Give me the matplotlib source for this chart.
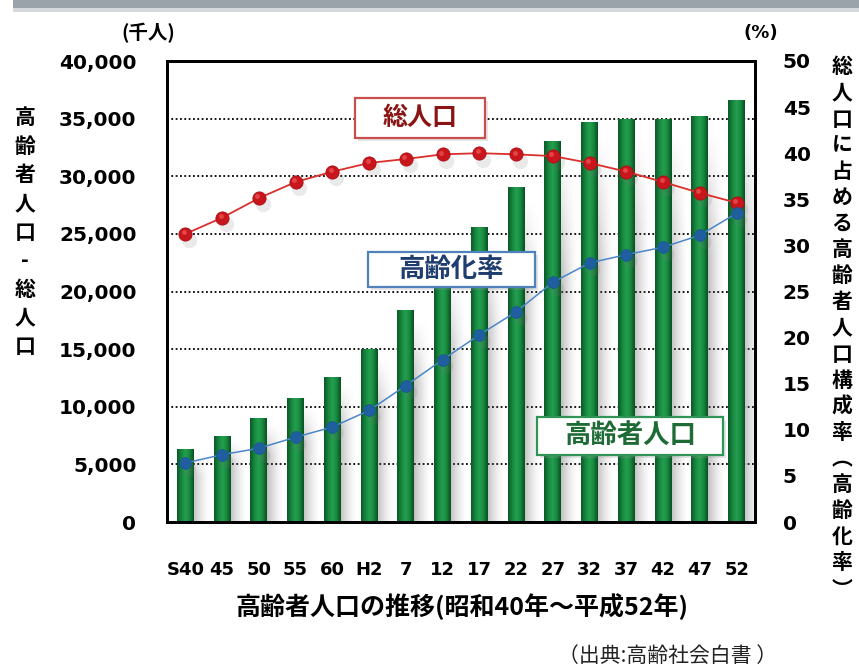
import matplotlib
matplotlib.use("Agg")
import matplotlib.pyplot as plt
import numpy as np
from matplotlib.colors import LinearSegmentedColormap
from matplotlib.patches import Rectangle

plt.rcParams['font.family'] = ['Noto Sans CJK JP', 'DejaVu Sans']

# ---- data -------------------------------------------------------------
categories = ['S40', '45', '50', '55', '60', 'H2', '7', '12', '17', '22',
              '27', '32', '37', '42', '47', '52']
elderly_pop = [6300, 7450, 9000, 10700, 12500, 14950, 18350, 22100, 25550,
               29000, 33000, 34700, 34900, 34900, 35200, 36600]      # 千人
total_pop_curve = [25000, 26400, 28100, 29500, 30400, 31150, 31500, 31900,
                   32000, 31900, 31750, 31150, 30400, 29500, 28550, 27700]
aging_rate = [6.4, 7.3, 8.0, 9.2, 10.3, 12.1, 14.8, 17.6, 20.3, 22.8,
              26.0, 28.1, 29.0, 29.8, 31.1, 33.5]                     # %
left_ticks = [0, 5000, 10000, 15000, 20000, 25000, 30000, 35000, 40000]
right_ticks = [0, 5, 10, 15, 20, 25, 30, 35, 40, 45, 50]

W, H = 859, 668
fig = plt.figure(figsize=(W / 100, H / 100), dpi=100)
fig.patch.set_facecolor('white')


def fx(x):
    return x / W


def fy(y):
    return 1 - y / H


ax = fig.add_axes([fx(167), fy(522), fx(755) - fx(167), fy(61) - fy(522)])
ax2 = ax.twinx()

x = np.arange(len(categories))
bw = 0.46

# dotted horizontal grid
for t in left_ticks[1:-1]:
    ax.axhline(t, color='black', lw=1.3, ls=(0, (1, 1.4)), zorder=0.5)

# soft shadows to the right of each bar
shadow = np.zeros((16, 64, 4))
shadow[..., :3] = 0.35
horiz = np.linspace(0.5, 0.0, 64) ** 1.4
vert = np.clip(np.linspace(0, 3, 16), 0, 1)[:, None]
shadow[..., 3] = horiz[None, :] * vert
for xi, v in zip(x, elderly_pop):
    ax.imshow(shadow, extent=(xi + bw / 2 - 0.02, xi + bw / 2 + 0.42, 0, v - 300),
              aspect='auto', interpolation='bilinear', zorder=1)

# cylinder-shaded green bars
bar_cmap = LinearSegmentedColormap.from_list(
    'cyl', ['#0a5827', '#17853e', '#24a050', '#18883f', '#084f22'])
grad = np.linspace(0, 1, 64).reshape(1, -1)
for xi, v in zip(x, elderly_pop):
    ax.imshow(grad, extent=(xi - bw / 2, xi + bw / 2, 0, v), cmap=bar_cmap,
              aspect='auto', interpolation='bilinear', zorder=2)

# total population curve with shadowed spheres
ax.plot(x + 0.1, np.array(total_pop_curve) - 550, 'o', ms=11, color='#777777',
        alpha=0.15, mec='none', zorder=2.5)
ax.plot(x, total_pop_curve, '-', color='#d9302c', lw=1.3, zorder=3)
ax.plot(x, total_pop_curve, 'o', ms=9.5, color='#c8161c', mec='#a80f14',
        mew=0.6, zorder=3.1)
ax.plot(x - 0.04, np.array(total_pop_curve) + 150, 'o', ms=3.5,
        color='#ee5a5a', mec='none', alpha=0.7, zorder=3.2)

ax.set_xlim(-0.5, len(categories) - 0.5)
ax.set_ylim(0, 40000)
ax.set_yticks(left_ticks)
ax.set_yticklabels([f'{t:,}' for t in left_ticks], family='DejaVu Sans',
                   fontweight='bold', fontsize=14.5)
ax.set_xticks(x)
ax.set_xticklabels(categories, family='DejaVu Sans', fontweight='bold',
                   fontsize=13)
ax.tick_params(axis='y', length=0, pad=22)
ax.tick_params(axis='x', length=0, pad=28)

# aging rate on the right axis
ax2.plot(x + 0.1, np.array(aging_rate) - 0.7, 'o', ms=10, color='#777777',
         alpha=0.15, mec='none', zorder=2)
ax2.plot(x, aging_rate, '-', color='#4a86c8', lw=1.1, zorder=3)
ax2.plot(x, aging_rate, 'o', ms=8.5, color='#1f5fa0', mec='#1a5592',
         mew=0.5, zorder=3.1)
ax2.set_ylim(0, 50)
ax2.set_yticks(right_ticks)
ax2.set_yticklabels([str(t) for t in right_ticks], family='DejaVu Sans',
                    fontweight='bold', fontsize=14.5)
ax2.tick_params(axis='y', length=0, pad=20)

for a in (ax, ax2):
    for s in a.spines.values():
        s.set_linewidth(2)
        s.set_color('black')

# unit captions
fig.text(fx(148), fy(33), '(千人)', ha='center', va='center', fontsize=14,
         fontweight='bold')
fig.text(fx(761), fy(33), '(%)', ha='center', va='center', fontsize=13,
         fontweight='bold', family='DejaVu Sans')

# vertical axis titles
fig.text(fx(25), fy(232), '\n'.join('高齢者人口-総人口'), ha='center',
         va='center', fontsize=15, fontweight='bold', linespacing=1.45)
fig.text(fx(842), fy(328), '\n'.join('総人口に占める高齢者人口構成率︵高齢化率︶'),
         ha='center', va='center', fontsize=15, fontweight='bold',
         linespacing=1.3)

# x-axis title and source
fig.text(fx(462), fy(607), '高齢者人口の推移(昭和40年～平成52年)', ha='center',
         va='center', fontsize=18, fontweight='bold')
fig.text(fx(668), fy(656), '（出典:高齢社会白書 ）', ha='center', va='center',
         fontsize=15, color='#222222')


# boxed series captions
def caption(cx, cy, w, h, text, tcolor, ecolor, size):
    fig.patches.append(Rectangle((fx(cx - w / 2 + 3), fy(cy + h / 2 + 3)),
                                 w / W, h / H, transform=fig.transFigure,
                                 facecolor='#999999', alpha=0.25,
                                 edgecolor='none', zorder=4))
    fig.patches.append(Rectangle((fx(cx - w / 2), fy(cy + h / 2)), w / W, h / H,
                                 transform=fig.transFigure, facecolor='white',
                                 edgecolor=ecolor, lw=1.6, zorder=5))
    fig.text(fx(cx), fy(cy), text, ha='center', va='center', fontsize=size,
             fontweight='bold', color=tcolor, zorder=6)


caption(420, 118, 130, 40, '総人口', '#8a1414', '#c9504a', 18)
caption(451, 269, 167, 35, '高齢化率', '#1f3d6e', '#4f81bd', 19)
caption(630, 436, 186, 38, '高齢者人口', '#1d6b35', '#2f9456', 19)

# grey header band
fig.patches.append(Rectangle((fx(13), fy(8)), 1, 8 / H, transform=fig.transFigure,
                             facecolor='#9aa3aa', edgecolor='none', zorder=1))
fig.patches.append(Rectangle((fx(13), fy(12)), 1, 4 / H, transform=fig.transFigure,
                             facecolor='#d5d9dc', edgecolor='none', zorder=1))

fig.savefig('out.png', dpi=100, facecolor='white')
